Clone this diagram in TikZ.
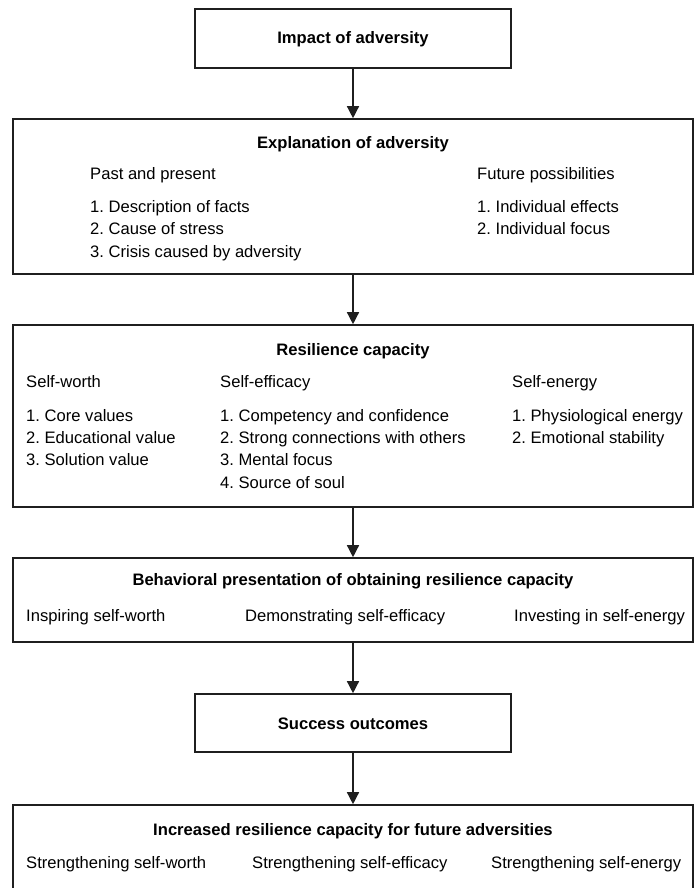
\documentclass[tikz,border=0pt]{standalone}
\usepackage{fontspec}
\setmainfont{Liberation Sans}
\usetikzlibrary{arrows.meta}
\begin{document}
\frenchspacing
\begin{tikzpicture}[x=1pt, y=-1pt, >={Triangle[width=12pt,length=12pt]},
    box/.style={draw=black!88, line width=1.6pt, inner sep=0pt},
    wide/.style={box, minimum width=680pt},
    narrow/.style={box, minimum width=316pt},
    lbl/.style={font=\fontsize{16.6}{22.4}\selectfont, inner sep=0pt, anchor=base west},
    ttl/.style={font=\fontsize{16.6}{22.4}\selectfont\bfseries, inner sep=0pt, anchor=base},
    link/.style={->, line width=1.4pt, draw=black!88}]

    \useasboundingbox (0,0) rectangle (699,888);
    \clip (0,0) rectangle (699,888);

    % Boxes
    \node[narrow, minimum height=59pt] (impact) at (353,38.5) {};
    \node[wide, minimum height=155pt] (explain) at (353,196.5) {};
    \node[wide, minimum height=182pt] (capacity) at (353,416) {};
    \node[wide, minimum height=84pt] (behave) at (353,600) {};
    \node[narrow, minimum height=58pt] (success) at (353,723) {};
    \node[wide, minimum height=100pt] (future) at (353,855) {};

    % Titles
    \node[ttl] (impactT) at (353,44) {Impact of adversity};
    \node[ttl] (explainT) at (353,148) {Explanation of adversity};
    \node[ttl] (capacityT) at (353,355) {Resilience capacity};
    \node[ttl] (behaveT) at (353,585) {Behavioral presentation of obtaining resilience capacity};
    \node[ttl] (successT) at (353,729) {Success outcomes};
    \node[ttl] (futureT) at (353,835) {Increased resilience capacity for future adversities};

    % Explanation of adversity
    \node[lbl] (past) at (90,179) {Past and present};
    \foreach \t [count=\i] in {Description of facts, Cause of stress, Crisis caused by adversity}
        \node[lbl] (past\i) at (90,{212+22.5*(\i-1)}) {\i. \t};
    \node[lbl] (fut) at (477,179) {Future possibilities};
    \foreach \t [count=\i] in {Individual effects, Individual focus}
        \node[lbl] (fut\i) at (477,{212+22.5*(\i-1)}) {\i. \t};

    % Resilience capacity
    \node[lbl] (worth) at (26,387) {Self-worth};
    \foreach \t [count=\i] in {Core values, Educational value, Solution value}
        \node[lbl] (worth\i) at (26,{421+22.4*(\i-1)}) {\i. \t};
    \node[lbl] (efficacy) at (220,387) {Self-efficacy};
    \foreach \t [count=\i] in {Competency and confidence, Strong connections with others, Mental focus, Source of soul}
        \node[lbl] (efficacy\i) at (220,{421+22.4*(\i-1)}) {\i. \t};
    \node[lbl] (energy) at (512,387) {Self-energy};
    \foreach \t [count=\i] in {Physiological energy, Emotional stability}
        \node[lbl] (energy\i) at (512,{421+22.4*(\i-1)}) {\i. \t};

    % Behavioral presentation
    \node[lbl] (inspire) at (26,621) {Inspiring self-worth};
    \node[lbl] (demo) at (245,621) {Demonstrating self-efficacy};
    \node[lbl] (invest) at (514,621) {Investing in self-energy};

    % Increased resilience capacity
    \node[lbl] (strW) at (26,868) {Strengthening self-worth};
    \node[lbl] (strE) at (252,868) {Strengthening self-efficacy};
    \node[lbl] (strN) at (491,868) {Strengthening self-energy};

    % Arrows
    \draw[link] (impact) -- (explain);
    \draw[link] (explain) -- (capacity);
    \draw[link] (capacity) -- (behave);
    \draw[link] (behave) -- (success);
    \draw[link] (success) -- (future);

\end{tikzpicture}
\end{document}
